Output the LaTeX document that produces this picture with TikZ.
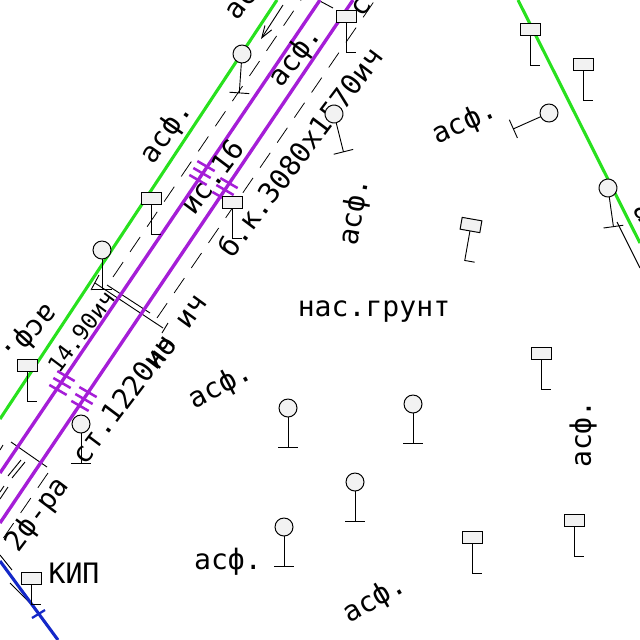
\documentclass[tikz,border=0pt]{standalone}
\usepackage{fontspec}
\newfontfamily\planfont{DejaVu Sans Mono}
\usetikzlibrary{arrows.meta}
\definecolor{pipecol}{RGB}{165,30,215}
\definecolor{gascol}{RGB}{40,225,30}
\definecolor{cablecol}{RGB}{20,40,200}

\begin{document}
\begin{tikzpicture}[x=0.025cm, y=-0.025cm,
	every node/.style={font=\planfont\fontsize{20}{24}\selectfont, inner sep=0pt},
	small/.style={font=\planfont\fontsize{16}{20}\selectfont},
	thin line/.style={black, line width=0.65pt},
	thin dash/.style={black, line width=0.55pt, dash pattern=on 12.8pt off 8.8pt},
	sign/.style={draw=black, line width=0.7pt, fill=black!5},
	gas/.style={gascol, line width=2.2pt},
	pipe/.style={pipecol, line width=2.4pt},
	>={Straight Barb[length=3mm,width=2mm]}]
	\useasboundingbox (0,0) rectangle (640,640);
	\clip (0,0) rectangle (640,640);

	% dashed edges of the carriageway
	\draw[thin dash] (157,318) -- (375,0);
	\draw[thin dash] (113,277) -- (301,0);
	\draw[thin dash] (48,473) -- (0,543);
	\draw[thin line] (25,462) -- (12,478);
	\draw[thin line] (21,460) -- (8,476);
	\draw[thin line] (8,487) -- (0,499);
	\draw[thin line] (4,486) -- (0,492);
	\draw[thin line] (0,450) -- (3,445);

	% cross sections
	\draw[thin line] (95,283) -- (163,328);
	\draw[thin line] (168,323) -- (162,333);
	\draw[thin line] (99,275) -- (91,290);
	\draw[thin line] (107,285) -- (150,313);
	\draw[thin line] (11,442) -- (47,467);
	\draw[thin line] (318,0) -- (333,8);
	\draw[thin line] (617,222) -- (640,268);
	\draw[thin line] (0,555) -- (12,570);
	\draw[thin line] (10,583) -- (30,603);
	\draw[thin line, ->] (283,5) -- (261,39);

	% mains
	\draw[gas] (0,419) -- (277,0);
	\draw[gas] (518,0) -- (640,243);
	\draw[pipe] (0,473) -- (320,0);
	\draw[pipe] (0,523) -- (353,0);
	\draw[cablecol, line width=2.2pt] (0,561) -- (58,640);
	\draw[cablecol, line width=1.6pt] (32,618) -- (45,610);

	% labels
	\node (ground) at (374,312) {нас.грунт};
	\node (kip) at (74,573) {КИП};
	\node[rotate=53] (pipeA) at (123,399) {ст.1220ич};
	\node[rotate=54] (pipeB) at (177,333) {но ич};
	\node[rotate=53, small] (width) at (81,332) {14.90ич};
	\node[rotate=53] (wall) at (38,515) {2ф-ра};
	\node[rotate=53] (well) at (212,177) {ис.16};
	\node[rotate=53] (culvert) at (300,152) {б.к.3080х1570ич};
	\node[rotate=53] (top) at (367,0) {с.};
	\node[rotate=53] (asfA) at (252,-10) {асф.};
	\node[rotate=55] (asfB) at (167,133) {асф.};
	\node[rotate=228] (asfC) at (30,333) {асф.};
	\node[rotate=53] (asfD) at (296,57) {асф.};
	\node[rotate=80] (asfE) at (355,212) {асф.};
	\node[rotate=25] (asfF) at (465,123) {асф.};
	\node[rotate=28] (asfG) at (221,387) {асф.};
	\node (asfH) at (228,562) {асф.};
	\node[rotate=30] (asfI) at (375,600) {асф.};
	\node[rotate=90] (asfJ) at (583,434) {асф.};
	\node[rotate=-60] (asfK) at (656,235) {асф.};

	% crossing marks
	\foreach \x/\y in {202/173, 225/190, 62/383, 84/399}
		\foreach \d in {-8,0,8}
			\draw[pipe, line width=1.8pt, shift={(\x,\y)}, rotate=60] (\d,-10) -- (\d,10);

	% lamp posts
	\foreach \x/\y/\a in {288/408/0, 413/404/0, 355/482/0, 284/527/0, 81/424/0, 102/250/0, 242/54/-4, 334/114/14, 549/113/-66, 608/188/8} {
		\begin{scope}[shift={(\x,\y)}, rotate=\a]
			\draw[thin line] (0,9) -- (0,39) (-10,39) -- (10,39);
			\draw[sign] (0,0) circle (9);
		\end{scope}
	}

	% signs
	\foreach \x/\y/\a/\l in {541/353/0/30, 472/537/0/30, 574/520/0/30, 471/225/-10/30, 530/29/0/30, 583/64/0/30, 27/365/0/30, 151/198/0/30, 232/202/0/30, 346/16/0/30, 31/578/0/20} {
		\begin{scope}[shift={(\x,\y)}, rotate=\a]
			\draw[thin line] (0,6) -- (0,6+\l) -- (10,6+\l);
			\draw[sign] (-10,-6) rectangle (10,6);
		\end{scope}
	}
\end{tikzpicture}
\end{document}
